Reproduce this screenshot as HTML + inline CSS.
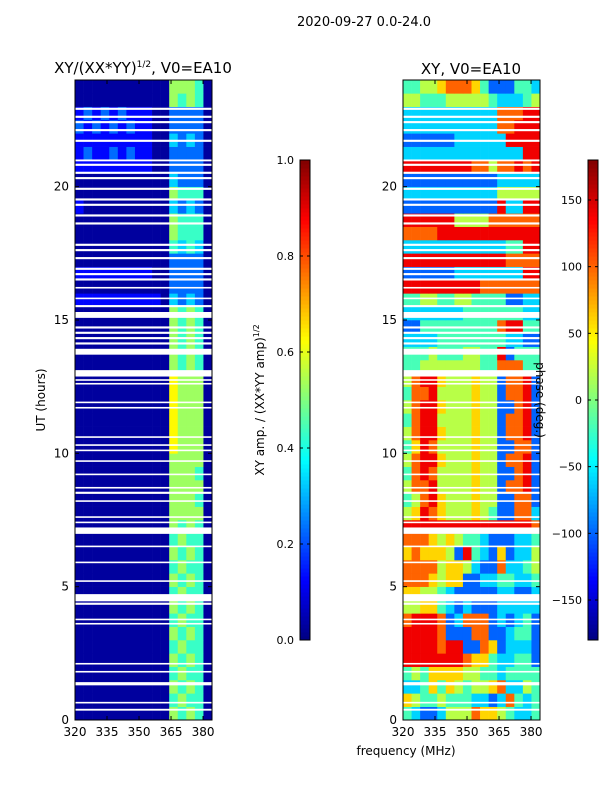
<!DOCTYPE html>
<html><head><meta charset="utf-8"><style>
body{margin:0;background:#fff;}
svg{display:block;font-family:"DejaVu Sans","Liberation Sans",sans-serif;}
</style></head><body>
<svg id="fig" width="600" height="800" viewBox="0 0 600 800" xmlns="http://www.w3.org/2000/svg">
<rect width="600" height="800" fill="#fff"/>
<text x="364" y="26" font-size="13" text-anchor="middle">2020-09-27 0.0-24.0</text>
<text x="143" y="73" font-size="15" text-anchor="middle">XY/(XX*YY)<tspan font-size="9" dy="-6">1/2</tspan><tspan dy="6">, V0=EA10</tspan></text>
<text x="471" y="74" font-size="15" text-anchor="middle">XY, V0=EA10</text>
<text x="406" y="755" font-size="12" text-anchor="middle">frequency (MHz)</text>
<text transform="translate(45,400) rotate(-90)" font-size="12" text-anchor="middle">UT (hours)</text>
<text transform="translate(264,400) rotate(-90)" font-size="12" text-anchor="middle">XY amp. / (XX*YY amp)<tspan font-size="8" dy="-5">1/2</tspan></text>
<g id="L"></g>
<g id="R"></g>
<g id="ax"></g>
<text transform="translate(536,400) rotate(90)" font-size="12" text-anchor="middle">phase (deg.)</text>
</svg>
<script>
const freqMin = 320, freqMax = 384.2, nCols = 16;
const hourMin = 0, hourMax = 24;
const xTicks = [320, 335, 350, 365, 380];
const yTicks = [0, 5, 10, 15, 20];
const ampTicks = [0.0, 0.2, 0.4, 0.6, 0.8, 1.0];
const phaseTicks = [-150, -100, -50, 0, 50, 100, 150];
// amplitude rows: digit d -> 0.03 + d/10
const ampRows = [
"0000000000054540","0000000000045440","0000000000054540","0000000000045440","0000000000054540","0000000000045440",
"0000000000054540","0000000000045440","0000000000054540","0000000000045440","0000000000054540","0000000000045440",
"0000000000054540","0000000000045440","0000000000054540","0000000000055550","0000000000055540","0000000000055550",
"0000000000055540","0000000000055550","0000000000065550","0000000000065550","0000000000065550","0000000000065550",
"0000000000065550","0000000000065550","0000000000054540","0000000000054540","0000000000054540","0000000000054540",
"0000000000054540","1111111111032320","0000000000022220","1111111110022220","0000000000022220","0000000000043430",
"0000000000054440","0000000000054440","1000000000032320","0000000000054440","0000000000032220","1111111110022220",
"1211212110022220","1111111110032320","2121212110022220","1212121110022220","0000000000054540","0000000000055540"];
// phase rows, digit d -> -180 + d*40 deg
const phaseRows = [
"4322355576654334","6544544433237434","3346465455673354","4546666554434444","8888888766433442","8888788227623332",
"8888722277223442","7888723777232342","5566432322233333","6655432222233223","7776566223344334","7777566532273345",
"6766652843262335","7776565443222334","8888888888888887","5687655565422773","4578655565522772","5778555565527782",
"4787555565522782","5788655565527782","4687555565522772","5788655565527782","4788555565527782","5788655565522782",
"4778555565527782","5788655565527782","4455555554477744","4445444554482444","3333444444443322","2244444444478844",
"3333333444444433","4455445544442233","8888888887777777","2222223333333388","8888888888887777","3333333333334488",
"7777888888888888","8888885555777777","2222222222283388","3333333333355555","2222222222233333","8888888877577878",
"3333333333333388","2222223333338888","3333333333377888","3333333333377788","5544455555433345","4455677764222443"];
const flagStart = [0.35,0.62,1.3,1.78,2.08,3.58,3.74,4.32,4.45,5.18,5.88,6.48,6.98,7.38,7.58,8.18,8.48,8.68,9.18,9.68,10.08,10.28,10.58,11.68,11.88,12.58,12.72,12.88,13.7,14.08,14.28,14.48,14.68,15.08,15.48,15.78,16.18,16.48,16.68,16.88,17.28,17.58,17.78,18.58,18.88,19.28,19.48,19.88,20.28,20.48,20.78,20.95,21.68,22.08,22.38,22.58,22.88];
const flagEnd   = [0.42,0.68,1.42,1.84,2.14,3.64,3.80,4.40,4.72,5.24,5.94,6.54,7.22,7.44,7.64,8.24,8.56,8.74,9.24,9.74,10.14,10.34,10.64,11.74,11.94,12.64,12.78,13.12,13.92,14.16,14.36,14.56,14.76,15.3,15.56,15.84,16.24,16.56,16.76,16.96,17.36,17.66,17.86,18.66,18.96,19.36,19.56,19.96,20.36,20.56,20.86,21.02,21.76,22.16,22.46,22.66,22.96];

const NS = "http://www.w3.org/2000/svg";
function el(tag, attrs, parent){const e=document.createElementNS(NS,tag);for(const k in attrs)e.setAttribute(k,attrs[k]);parent.appendChild(e);return e;}
function cl(x){return Math.max(0,Math.min(1,x));}
function jet(v){const r=cl(1.5-Math.abs(4*v-3)),g=cl(1.5-Math.abs(4*v-2)),b=cl(1.5-Math.abs(4*v-1));return `rgb(${Math.round(r*255)},${Math.round(g*255)},${Math.round(b*255)})`;}
const yTop=80, yBot=720;
function yScale(h){return yBot-(h-hourMin)/(hourMax-hourMin)*(yBot-yTop);}
function xScaleL(f){return 75+(f-freqMin)/(freqMax-freqMin)*137;}
function xScaleR(f){return 403+(f-freqMin)/(freqMax-freqMin)*137;}

function heat(g, rows, xs, toV, name){
  const nR=rows.length, dh=(hourMax-hourMin)/nR, df=(freqMax-freqMin)/nCols;
  rows.forEach((row,i)=>{
    for(let j=0;j<nCols;j++){
      const v=toV(+row[j]);
      const x0=xs(freqMin+j*df), x1=xs(freqMin+(j+1)*df);
      const y0=yScale(hourMin+(i+1)*dh), y1=yScale(hourMin+i*dh);
      const r=el('rect',{x:x0,y:y0,width:x1-x0+0.3,height:y1-y0+0.3,fill:jet(v)},g);
      
      
    }
  });
  flagStart.forEach((s,k)=>{
    const y0=yScale(flagEnd[k]), y1=yScale(s);
    const r=el('rect',{x:xs(freqMin),y:y0,width:xs(freqMax)-xs(freqMin),height:Math.max(1.5,y1-y0),fill:'#fff'},g);
    
    
  });
}
heat(document.getElementById('L'), ampRows, xScaleL, d=>0.03+d/10, 'amp');
heat(document.getElementById('R'), phaseRows, xScaleR, d=>d/9, 'phase');

const ax=document.getElementById('ax');
function frame(xs,name){
  const x0=xs(freqMin), x1=xs(freqMax);
  const f=el('rect',{x:x0,y:yTop,width:x1-x0,height:yBot-yTop,fill:'none',stroke:'#000','stroke-width':1},ax);
  
  
  xTicks.forEach(t=>{
    const x=xs(t);
    el('line',{x1:x,y1:yBot,x2:x,y2:yBot-4,stroke:'#000'},ax);
    el('line',{x1:x,y1:yTop,x2:x,y2:yTop+4,stroke:'#000'},ax);
    const tx=el('text',{x:x,y:yBot+16,'font-size':12,'text-anchor':'middle'},ax);
    tx.textContent=t;
    
    
  });
  yTicks.forEach(t=>{
    const y=yScale(t);
    el('line',{x1:x0,y1:y,x2:x0+4,y2:y,stroke:'#000'},ax);
    el('line',{x1:x1,y1:y,x2:x1-4,y2:y,stroke:'#000'},ax);
    const tx=el('text',{x:x0-6,y:y+4,'font-size':12,'text-anchor':'end'},ax);
    tx.textContent=t;
    
    
  });
}
frame(xScaleL,'left-axes'); frame(xScaleR,'right-axes');

function cbar(x,ticks,vmin,vmax,fmt,name){
  const cbTop=160, cbBot=640, n=120;
  for(let i=0;i<n;i++){
    const r=el('rect',{x:x,y:cbBot-(i+1)*(cbBot-cbTop)/n,width:10,height:(cbBot-cbTop)/n+0.5,fill:jet((i+0.5)/n)},ax);
    
    
  }
  const f=el('rect',{x:x,y:cbTop,width:10,height:cbBot-cbTop,fill:'none',stroke:'#000','stroke-width':1},ax);
  
  
  ticks.forEach(t=>{
    const y=cbBot-(t-vmin)/(vmax-vmin)*(cbBot-cbTop);
    el('line',{x1:x,y1:y,x2:x+3,y2:y,stroke:'#000'},ax);
    el('line',{x1:x+10,y1:y,x2:x+7,y2:y,stroke:'#000'},ax);
    const tx=el('text',{x:x-6,y:y+4,'font-size':11,'text-anchor':'end'},ax);
    tx.textContent=fmt(t);
    
    
  });
}
cbar(300,ampTicks,0,1,t=>t.toFixed(1),'amp-colorbar');
cbar(588,phaseTicks,-180,180,t=>t<0?'\u2212'+(-t):String(t),'phase-colorbar');
</script>
</body></html>
